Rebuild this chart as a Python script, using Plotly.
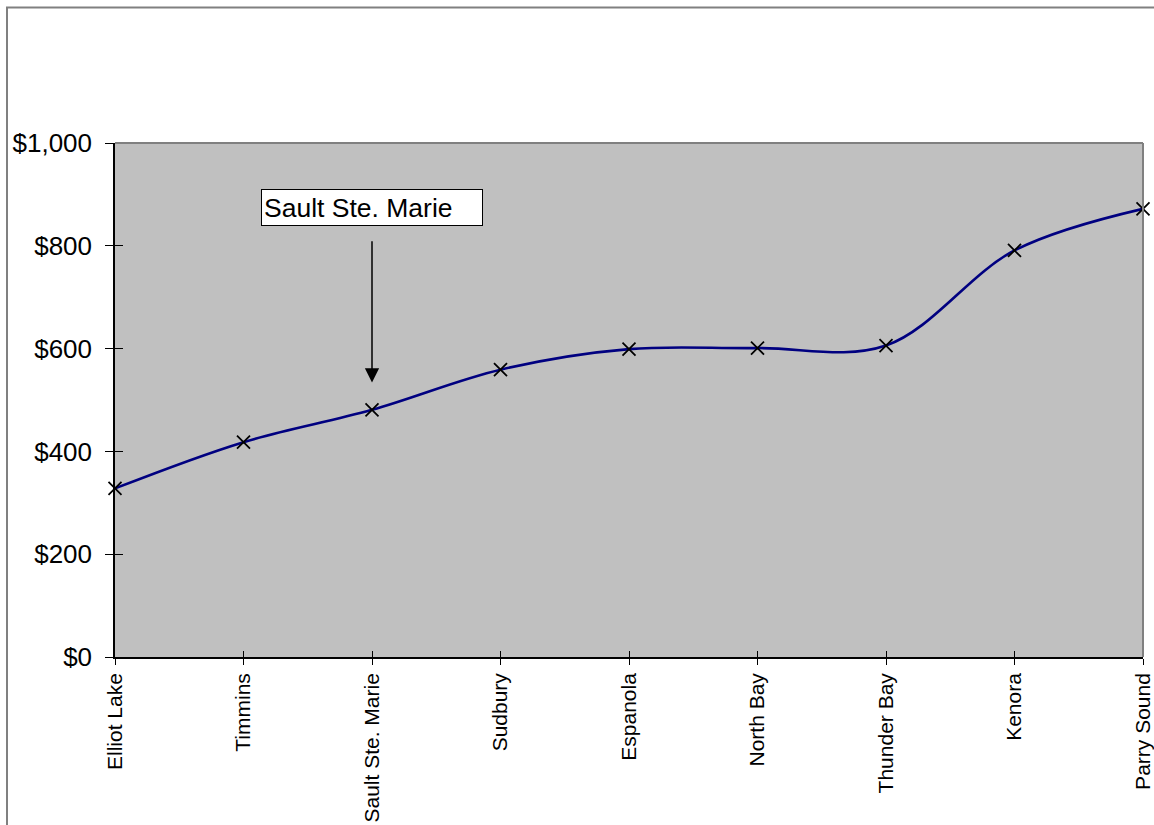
import plotly.graph_objects as go

cities = ["Elliot Lake", "Timmins", "Sault Ste. Marie", "Sudbury", "Espanola",
          "North Bay", "Thunder Bay", "Kenora", "Parry Sound"]
values = [328, 418, 481, 559, 599, 601, 606, 791, 872]
y_ticks = [0, 200, 400, 600, 800, 1000]
y_tick_text = ["$0", "$200", "$400", "$600", "$800", "$1,000"]

callout_city = "Sault Ste. Marie"
callout_label_y = 875
callout_arrow_start = 812
callout_arrow_tip = 534

W, H = 1154, 825
L, R, T, B = 115, 11, 142.5, 168.3
pw, ph = W - L - R, H - T - B

fig = go.Figure()
fig.add_trace(go.Scatter(
    x=cities, y=values, mode="lines+markers", cliponaxis=False,
    line=dict(color="#000080", width=2.6, shape="spline", smoothing=1.0),
    marker=dict(symbol="x-thin", size=13, line=dict(color="black", width=1.8), color="black"),
    showlegend=False, hoverinfo="x+y"))

axis_font = dict(family="Liberation Sans, Arial, sans-serif", color="black")

fig.update_layout(
    width=W, height=H,
    margin=dict(l=L, r=R, t=T, b=B, autoexpand=False),
    paper_bgcolor="white", plot_bgcolor="#c0c0c0",
    xaxis=dict(type="category", range=[0, len(cities) - 1], showgrid=False,
               showline=True, linecolor="black", linewidth=1.5,
               ticks="outside", ticklen=6, tickcolor="black", tickwidth=1,
               tickangle=-90, tickfont=dict(size=21, **axis_font), zeroline=False,
               ticklabelstandoff=0, automargin=False),
    yaxis=dict(range=[0, 1000], tickvals=y_ticks, ticktext=y_tick_text, showgrid=False,
               showline=True, linecolor="black", linewidth=1.5,
               ticks="outside", ticklen=8, tickcolor="black", tickwidth=1,
               tickfont=dict(size=26, **axis_font), zeroline=False,
               ticklabelstandoff=8, automargin=False),
    xaxis2=dict(type="category", range=[0, len(cities) - 1], overlaying="x", matches="x",
                showticklabels=False, ticks="inside", ticklen=6, tickcolor="black",
                showgrid=False, showline=False, zeroline=False, automargin=False),
    yaxis2=dict(range=[0, 1000], tickvals=y_ticks, overlaying="y", matches="y",
                showticklabels=False, ticks="inside", ticklen=8, tickcolor="black",
                showgrid=False, showline=False, zeroline=False, automargin=False),
)
fig.add_trace(go.Scatter(x=cities, y=values, xaxis="x2", yaxis="y2", mode="none",
                         showlegend=False, hoverinfo="skip"))

# plot-area border (top/right gray)
fig.add_shape(type="line", xref="paper", yref="paper", x0=0, x1=1, y0=1, y1=1,
              line=dict(color="#808080", width=2))
fig.add_shape(type="line", xref="paper", yref="paper", x0=1, x1=1, y0=0, y1=1,
              line=dict(color="#808080", width=2))
# outer chart frame
fx0 = (7 - L) / pw
fy1 = (H - B - 7) / ph
fig.add_shape(type="rect", xref="paper", yref="paper", x0=fx0, x1=1.5, y0=-1, y1=fy1,
              line=dict(color="#808080", width=2), fillcolor="rgba(0,0,0,0)", layer="below")

# callout label and arrow
fig.add_annotation(x=callout_city, y=callout_label_y, text="Sault Ste. Marie",
                   showarrow=False, xanchor="center", yanchor="middle",
                   font=dict(size=26.5, **axis_font), bgcolor="white",
                   bordercolor="black", borderwidth=1, borderpad=2,
                   width=216, height=31, align="left")
fig.add_annotation(x=callout_city, y=callout_arrow_tip, ax=callout_city, ay=callout_arrow_start,
                   axref="x", ayref="y", text="", showarrow=True,
                   arrowhead=2, arrowsize=1.9, arrowwidth=1.5, arrowcolor="black")

fig.write_html("out.html")
